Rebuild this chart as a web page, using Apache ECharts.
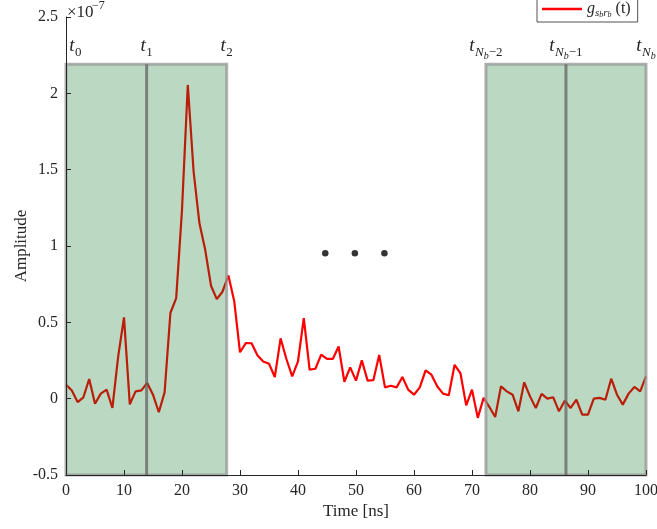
<!DOCTYPE html>
<html>
<head>
<meta charset="utf-8">
<script src="https://cdn.jsdelivr.net/npm/echarts@6/dist/echarts.min.js"></script>
<style>html,body{margin:0;padding:0;background:#fff}#c{width:657px;height:529px}</style>
</head>
<body>
<div id="c"></div>
<script>
// ---- data (amplitude in units of 1e-7) ----
const timeNs = [];
for (let i = 0; i <= 100; i++) timeNs.push(i);
const amplitude = [
  0.092, 0.054, -0.022, 0.009, 0.129, -0.033, 0.033, 0.059, -0.061, 0.277,
  0.532, -0.037, 0.048, 0.054, 0.103, 0.026, -0.089, 0.041, 0.561, 0.659,
  1.237, 2.055, 1.488, 1.150, 0.975, 0.740, 0.652, 0.702, 0.807, 0.640,
  0.304, 0.364, 0.363, 0.285, 0.244, 0.229, 0.142, 0.395, 0.260, 0.146,
  0.244, 0.528, 0.190, 0.196, 0.288, 0.260, 0.260, 0.342, 0.111, 0.205,
  0.118, 0.251, 0.118, 0.122, 0.286, 0.074, 0.085, 0.074, 0.142, 0.059,
  0.026, 0.074, 0.185, 0.157, 0.081, 0.033, 0.022, 0.222, 0.168, -0.044,
  0.059, -0.126, 0.005, -0.055, -0.120, 0.081, 0.048, 0.026, -0.083, 0.107,
  0.015, -0.061, 0.031, 0.000, 0.009, -0.083, -0.013, -0.061, -0.007, -0.105,
  -0.105, 0.000, 0.005, -0.007, 0.131, 0.026, -0.039, 0.033, 0.077, 0.048,
  0.146
];
const dotsX = [44.7, 49.8, 54.9];
const dotsY = [0.953, 0.953, 0.953];

const blockStart = [0, 72.4];
const blockEnd = [27.7, 100];
const blockMid = [13.9, 86.2];
const blockTop = 2.19;
const blockBottom = -0.5;

const boundaryLabelX = [1.6, 13.9, 27.7, 72.4, 86.2, 100];
const boundaryLabelSub = ['0', '1', '2', 'Nb-2', 'Nb-1', 'Nb'];

const xTicks = [0, 10, 20, 30, 40, 50, 60, 70, 80, 90, 100];
const yTicks = [-0.5, 0, 0.5, 1, 1.5, 2, 2.5];

// ---- helpers ----
const SERIF = '"Liberation Serif","DejaVu Serif",serif';
const mctx = document.createElement('canvas').getContext('2d');
function tw(text, size, italic) {
  mctx.font = (italic ? 'italic ' : '') + size + 'px ' + SERIF;
  return mctx.measureText(text).width;
}
function pieces(sub) {
  const T = {text: 't', size: 19, italic: true, dy: 0, gap: 0.5};
  if (sub === 'Nb-2' || sub === 'Nb-1') {
    return [T,
      {text: 'N', size: 13, italic: true, dy: 5},
      {text: 'b', size: 10, italic: true, dy: 8},
      {text: '\u2212' + sub.slice(3), size: 13, italic: false, dy: 5}];
  }
  if (sub === 'Nb') {
    return [T, {text: 'N', size: 13, italic: true, dy: 5}, {text: 'b', size: 10, italic: true, dy: 8}];
  }
  return [T, {text: sub, size: 13, italic: false, dy: 5}];
}

const chart = echarts.init(document.getElementById('c'), null, {renderer: 'canvas'});

const blockData = blockStart.map((s, i) => [s, blockEnd[i], blockMid[i], blockTop]);
const labelData = boundaryLabelX.map((x, i) => [x, blockTop, i]);

chart.setOption({
  animation: false,
  backgroundColor: '#ffffff',
  grid: {left: 66, right: 11, top: 17, bottom: 54, containLabel: false, outerBoundsMode: 'none'},
  legend: {
    data: [{name: 'g', icon: 'rect'}],
    left: 537, top: -7,
    orient: 'vertical',
    backgroundColor: '#ffffff',
    borderColor: '#262626', borderWidth: 0.8,
    padding: [6, 7, 3, 5],
    itemWidth: 40, itemHeight: 2.5, itemGap: 4,
    itemStyle: {color: '#ff0000'},
    formatter: () => '{g|g}{s|s}{ss|b}{s|r}{ss|b}{p| (t)}',
    textStyle: {
      color: '#262626', fontFamily: SERIF,
      rich: {
        g: {fontSize: 16, fontStyle: 'italic', fontFamily: SERIF, color: '#262626', lineHeight: 18},
        s: {fontSize: 11, fontStyle: 'italic', fontFamily: SERIF, color: '#262626', lineHeight: 11, padding: [8, 0, 0, 0]},
        ss: {fontSize: 8, fontStyle: 'italic', fontFamily: SERIF, color: '#262626', lineHeight: 8, padding: [12, 0, 0, 0]},
        p: {fontSize: 16, fontFamily: SERIF, color: '#262626', lineHeight: 18}
      }
    }
  },
  xAxis: {
    type: 'value', min: 0, max: 100, interval: 10, z: 10,
    name: 'Time [ns]', nameLocation: 'middle', nameGap: 28, nameMoveOverlap: false,
    nameTextStyle: {fontFamily: SERIF, fontSize: 17, color: '#262626'},
    axisLine: {show: true, onZero: false, lineStyle: {color: '#262626', width: 1}},
    axisTick: {show: true, inside: true, length: 5, lineStyle: {color: '#262626'}},
    axisLabel: {fontFamily: SERIF, fontSize: 16, color: '#262626', margin: 8,
      formatter: v => xTicks.includes(v) ? String(v) : ''},
    splitLine: {show: false}
  },
  yAxis: {
    type: 'value', min: -0.5, max: 2.5, interval: 0.5, z: 10,
    name: 'Amplitude', nameLocation: 'middle', nameGap: 36, nameMoveOverlap: false,
    nameTextStyle: {fontFamily: SERIF, fontSize: 17, color: '#262626'},
    axisLine: {show: true, onZero: false, lineStyle: {color: '#262626', width: 1}},
    axisTick: {show: true, inside: true, length: 5, lineStyle: {color: '#262626'}},
    axisLabel: {fontFamily: SERIF, fontSize: 16, color: '#262626', margin: 8,
      formatter: v => yTicks.includes(v) ? String(v) : ''},
    splitLine: {show: false}
  },
  graphic: [{
    type: 'group', left: 67, top: 0,
    children: [
      {type: 'text', x: 0, y: 1, style: {text: '\u00d710', font: '17px ' + SERIF, fill: '#262626', verticalAlign: 'top'}},
      {type: 'text', x: 25, y: -3, style: {text: '\u22127', font: '12px ' + SERIF, fill: '#262626', verticalAlign: 'top'}}
    ]
  }],
  series: [
    {
      name: 'g', type: 'line', z: 2,
      data: timeNs.map((t, i) => [t, amplitude[i]]),
      symbol: 'none', lineStyle: {color: '#ff0000', width: 2.2}, itemStyle: {color: '#ff0000'}
    },
    {
      name: 'dots', type: 'scatter', z: 4,
      data: dotsX.map((x, i) => [x, dotsY[i]]),
      symbol: 'circle', symbolSize: 6.5, itemStyle: {color: '#000000'}
    },
    {
      name: 'blocks', type: 'custom', z: 3, clip: false,
      data: blockData,
      renderItem: (params, api) => {
        const p0 = api.coord([api.value(0), api.value(3)]);
        const p1 = api.coord([api.value(1), blockBottom]);
        const pm = api.coord([api.value(2), api.value(3)]);
        return {
          type: 'group',
          children: [
            {type: 'rect', shape: {x: p0[0], y: p0[1], width: p1[0] - p0[0], height: p1[1] - p0[1]},
              style: {fill: 'rgba(0,110,30,0.27)', stroke: 'rgba(150,150,150,0.75)', lineWidth: 3}},
            {type: 'line', shape: {x1: pm[0], y1: pm[1], x2: pm[0], y2: p1[1]},
              style: {stroke: 'rgba(100,100,100,0.75)', lineWidth: 3}}
          ]
        };
      }
    },
    {
      name: 'labels', type: 'custom', z: 5, clip: false,
      data: labelData,
      renderItem: (params, api) => {
        const p = api.coord([api.value(0), api.value(1)]);
        const ps = pieces(boundaryLabelSub[api.value(2)]);
        let total = 0;
        ps.forEach(q => { q.w = tw(q.text, q.size, q.italic) + (q.gap || 0); total += q.w; });
        let x = p[0] - total / 2;
        const base = p[1] - 13;
        const children = ps.map(q => {
          const el = {type: 'text', x: x, y: base + q.dy + q.size * 0.22,
            style: {text: q.text, font: (q.italic ? 'italic ' : '') + q.size + 'px ' + SERIF,
              fill: '#262626', verticalAlign: 'bottom', align: 'left'}};
          x += q.w;
          return el;
        });
        return {type: 'group', children: children};
      }
    }
  ]
});
</script>
</body>
</html>
